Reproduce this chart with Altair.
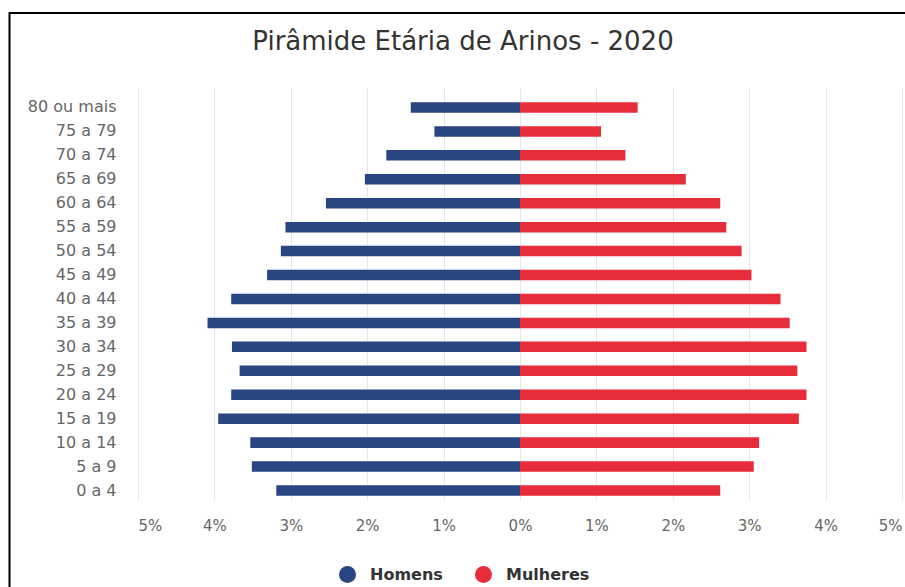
import altair as alt
import pandas as pd

ages = ["80 ou mais", "75 a 79", "70 a 74", "65 a 69", "60 a 64", "55 a 59",
        "50 a 54", "45 a 49", "40 a 44", "35 a 39", "30 a 34", "25 a 29",
        "20 a 24", "15 a 19", "10 a 14", "5 a 9", "0 a 4"]
homens = [1.43, 1.12, 1.75, 2.03, 2.54, 3.07, 3.13, 3.31, 3.78, 4.09,
          3.77, 3.67, 3.78, 3.95, 3.53, 3.51, 3.19]
mulheres = [1.54, 1.06, 1.38, 2.17, 2.62, 2.70, 2.90, 3.03, 3.41, 3.53,
            3.75, 3.63, 3.75, 3.65, 3.13, 3.06, 2.62]
series = ["Homens", "Mulheres"]
colors = ["#2a4682", "#e72d3a"]
ticks = [-5, -4, -3, -2, -1, 0, 1, 2, 3, 4, 5]

rows = []
for a, h, m in zip(ages, homens, mulheres):
    rows.append({"idade": a, "sexo": "Homens", "valor": -h})
    rows.append({"idade": a, "sexo": "Mulheres", "valor": m})
df = pd.DataFrame(rows)

FONT = "DejaVu Sans"

bars = alt.Chart(df).mark_bar().encode(
    x=alt.X("valor:Q",
            scale=alt.Scale(domain=[-5, 5], nice=False),
            axis=alt.Axis(values=ticks, labelExpr="abs(datum.value) + '%'",
                          title=None, domain=False, ticks=False,
                          grid=True, gridColor="#e6e6e6", gridWidth=1,
                          labelFont=FONT, labelFontSize=15, labelColor="#666666",
                          labelPadding=18)),
    y=alt.Y("idade:N", sort=ages,
            scale=alt.Scale(paddingInner=0.561, paddingOuter=0.385, align=0.77),
            axis=alt.Axis(title=None, domain=False, ticks=False, grid=False,
                          labelFont=FONT, labelFontSize=16, labelColor="#666666",
                          labelPadding=22)),
    color=alt.Color("sexo:N",
                    scale=alt.Scale(domain=series, range=colors),
                    legend=alt.Legend(title=None, orient="none", direction="horizontal",
                                      legendX=201, legendY=478, padding=0,
                                      symbolType="circle", symbolSize=289,
                                      symbolStrokeWidth=0, symbolOpacity=1,
                                      labelFont=FONT, labelFontSize=16,
                                      labelFontWeight="bold", labelColor="#333333",
                                      labelOffset=14, columnPadding=32)),
)

frame = alt.Chart(pd.DataFrame({"f": [0]})).mark_rect(
    filled=False, stroke="black", strokeWidth=2
).encode(
    x=alt.value(-128.5), x2=alt.value(780), y=alt.value(-75), y2=alt.value(520)
)

chart = alt.layer(bars, frame).properties(
    width=764, height=412,
    title=alt.TitleParams("Pirâmide Etária de Arinos - 2020", font=FONT,
                          fontSize=26, fontWeight="normal", color="#333333",
                          anchor="middle", baseline="alphabetic", dx=-57, offset=-64),
    autosize=alt.AutoSizeParams(type="none"),
    padding={"left": 138, "top": 88, "right": 3, "bottom": 87},
).configure_view(stroke=None)

chart.save("out.html", embed_options={"renderer": "svg", "actions": False})
